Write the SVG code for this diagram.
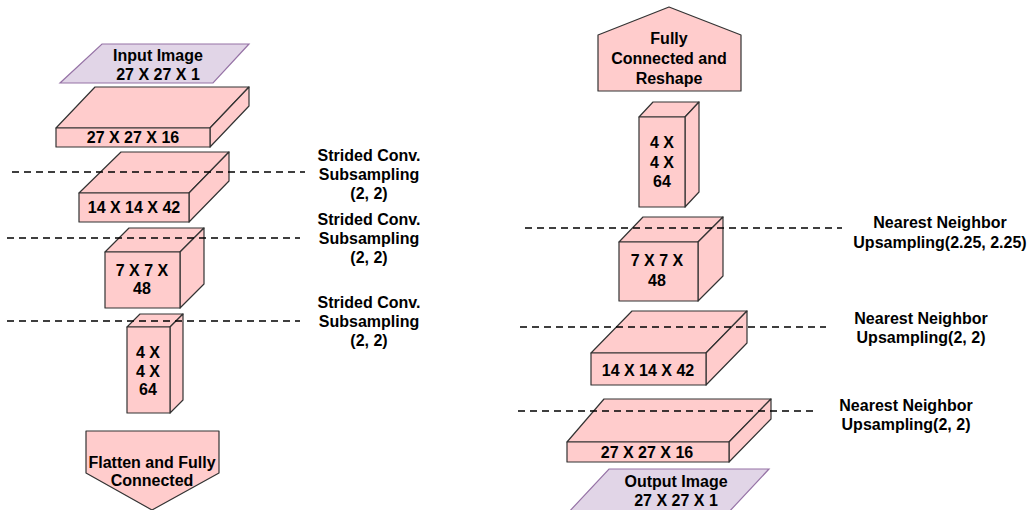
<svg xmlns="http://www.w3.org/2000/svg" width="1032" height="510" viewBox="0 0 1032 510">
<style>
.box{fill:#FFCCCC;stroke:#333;stroke-width:1.2;stroke-linejoin:round}
.img{fill:#E1D5E7;stroke:#9673A6;stroke-width:1.2}
.dash{stroke:#000;stroke-width:1.5;stroke-dasharray:7 5;fill:none}
text{font-family:"Liberation Sans",Arial,Helvetica,sans-serif;font-weight:bold;font-size:16px;fill:#000;text-anchor:middle;dominant-baseline:central}
</style>
<rect width="1032" height="510" fill="#fff"/>
<!-- Left encoder -->
<g id="input-image">
<polygon class="img" points="102,44 249,44 213,83 60,83"/>
<text x="158" y="55">Input Image</text>
<text x="158" y="74">27 X 27 X 1</text>
</g>
<g id="enc-27x27x16">
<polygon class="box" points="56,128 95,87 249,87 210,128"/>
<polygon class="box" points="210,128 249,87 249,106 210,147"/>
<rect class="box" x="56" y="128" width="154" height="19"/>
<text x="133" y="137">27 X 27 X 16</text>
</g>
<g id="enc-14x14x42">
<polygon class="box" points="79,193 121,152 229,152 189,193"/>
<polygon class="box" points="189,193 229,152 229,181 189,222"/>
<rect class="box" x="79" y="193" width="110" height="29"/>
<text x="134" y="207">14 X 14 X 42</text>
</g>
<g id="enc-7x7x48">
<polygon class="box" points="105,252 129,228 204,228 180,252"/>
<polygon class="box" points="180,252 204,228 204,284 180,308"/>
<rect class="box" x="105" y="252" width="75" height="56"/>
<text x="142" y="270">7 X 7 X</text>
<text x="142" y="288">48</text>
</g>
<g id="enc-4x4x64">
<polygon class="box" points="127,327 140,314 183,314 170,327"/>
<polygon class="box" points="170,327 183,314 183,400 170,413"/>
<rect class="box" x="127" y="327" width="43" height="86"/>
<text x="148" y="352">4 X</text>
<text x="148" y="371">4 X</text>
<text x="148" y="389">64</text>
</g>
<g id="flatten">
<polygon class="box" points="86,431 219,431 219,473 152,510 86,473"/>
<text x="152" y="462">Flatten and Fully</text>
<text x="152" y="480">Connected</text>
</g>
<!-- Right decoder -->
<g id="fc-reshape">
<polygon class="box" points="598,35 669,7 741,35 741,91 598,91"/>
<text x="669" y="38">Fully</text>
<text x="669" y="58">Connected and</text>
<text x="669" y="78">Reshape</text>
</g>
<g id="dec-4x4x64">
<polygon class="box" points="639,117 653,102 699,102 685,117"/>
<polygon class="box" points="685,117 699,102 699,192 685,207"/>
<rect class="box" x="639" y="117" width="46" height="90"/>
<text x="662" y="142">4 X</text>
<text x="662" y="162">4 X</text>
<text x="662" y="181">64</text>
</g>
<g id="dec-7x7x48">
<polygon class="box" points="619,242 643,217 723,217 698,242"/>
<polygon class="box" points="698,242 723,217 723,276 698,301"/>
<rect class="box" x="619" y="242" width="79" height="59"/>
<text x="657" y="260">7 X 7 X</text>
<text x="657" y="280">48</text>
</g>
<g id="dec-14x14x42">
<polygon class="box" points="591,353 632,311 747,311 706,353"/>
<polygon class="box" points="706,353 747,311 747,343 706,385"/>
<rect class="box" x="591" y="353" width="115" height="32"/>
<text x="648" y="370">14 X 14 X 42</text>
</g>
<g id="dec-27x27x16">
<polygon class="box" points="567,442 604,399 771,399 729,442"/>
<polygon class="box" points="729,442 771,399 771,419 729,462"/>
<rect class="box" x="567" y="442" width="162" height="20"/>
<text x="647" y="452">27 X 27 X 16</text>
</g>
<g id="output-image">
<polygon class="img" points="609,469 769,469 727,514 567,514"/>
<text x="676" y="481">Output Image</text>
<text x="676" y="500">27 X 27 X 1</text>
</g>
<!-- dashed layer boundaries -->
<g id="connectors">
<line class="dash" x1="12" y1="172" x2="305" y2="172"/>
<line class="dash" x1="7" y1="238" x2="300" y2="238"/>
<line class="dash" x1="7" y1="321" x2="300" y2="321"/>
<line class="dash" x1="525" y1="228" x2="842" y2="228"/>
<line class="dash" x1="520" y1="327" x2="826" y2="327"/>
<line class="dash" x1="518" y1="411" x2="815" y2="411"/>
</g>
<g id="labels">
<text x="369" y="155">Strided Conv.</text>
<text x="369" y="174">Subsampling</text>
<text x="369" y="193">(2, 2)</text>
<text x="369" y="219">Strided Conv.</text>
<text x="369" y="238">Subsampling</text>
<text x="369" y="257">(2, 2)</text>
<text x="369" y="302">Strided Conv.</text>
<text x="369" y="321">Subsampling</text>
<text x="369" y="340">(2, 2)</text>
<text x="940" y="222">Nearest Neighbor</text>
<text x="940" y="242">Upsampling(2.25, 2.25)</text>
<text x="921" y="318">Nearest Neighbor</text>
<text x="921" y="337">Upsampling(2, 2)</text>
<text x="906" y="405">Nearest Neighbor</text>
<text x="906" y="424">Upsampling(2, 2)</text>
</g>
</svg>
